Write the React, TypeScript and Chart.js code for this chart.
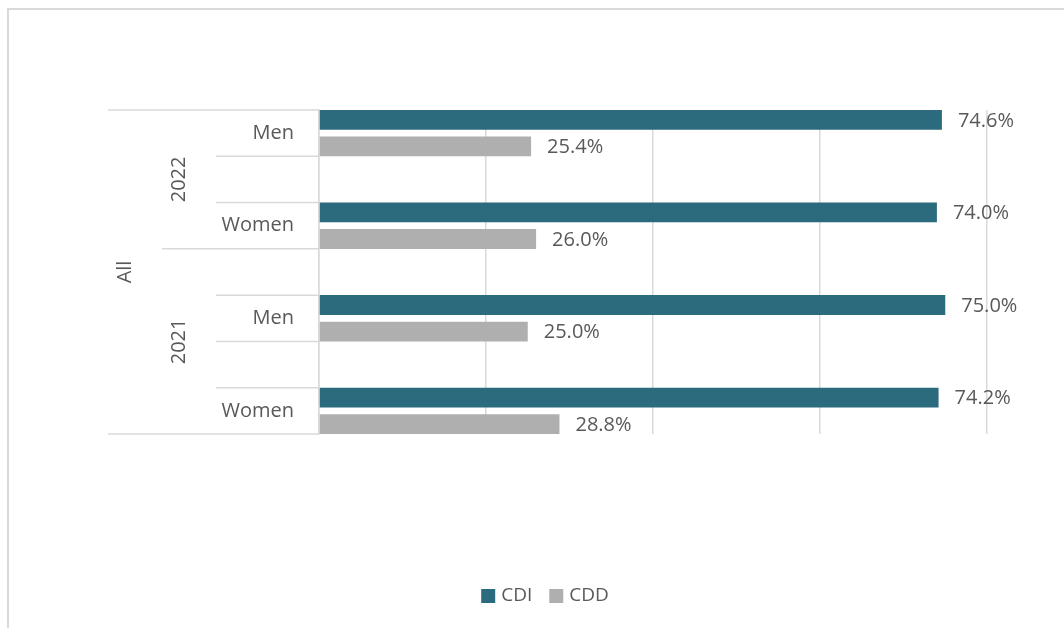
import React, { useEffect, useRef } from "react";
import { Chart, registerables } from "chart.js";

Chart.register(...registerables);

// ---- data ----
const categories = ["Men", "", "Women", "", "Men", "", "Women"];
const yearLabels = ["2022", "2021"];
const yearSpans = [
  [0, 2],
  [3, 6],
];
const outerLabel = "All";
const seriesNames = ["CDI", "CDD"];
const cdiValues = [74.6, null, 74.0, null, 75.0, null, 74.2];
const cddValues = [25.4, null, 26.0, null, 25.0, null, 28.8];
const seriesColors = ["#2B6B7D", "#AFAFAF"];
const xMax = 80;
const xStep = 20;

const FONT = '"Open Sans", "DejaVu Sans", sans-serif';
const TEXT = "#595959";
const LINE = "#d9d9d9";

const multiLevelPlugin = {
  id: "multiLevel",
  afterDraw(chart: any) {
    const ctx = chart.ctx;
    const ys = chart.scales.y;
    const top = ys.top;
    const bottom = ys.bottom;
    const n = categories.length;
    const band = (bottom - top) / n;
    const axisX = chart.chartArea.left;
    ctx.save();
    ctx.strokeStyle = LINE;
    ctx.lineWidth = 1.5;
    const hline = (y: number, x0: number) => {
      ctx.beginPath();
      ctx.moveTo(x0, y);
      ctx.lineTo(axisX, y);
      ctx.stroke();
    };
    hline(top, axisX - 211);
    hline(bottom, axisX - 211);
    for (let k = 1; k < n; k++) {
      const y = top + k * band;
      const isGroup = yearSpans.some((s) => s[0] === k);
      hline(y, isGroup ? axisX - 157 : axisX - 103);
    }
    ctx.fillStyle = TEXT;
    ctx.font = `20px ${FONT}`;
    ctx.textBaseline = "middle";
    ctx.textAlign = "right";
    categories.forEach((c, i) => {
      if (!c) return;
      ctx.fillText(c, axisX - 25, ys.getPixelForValue(i));
    });
    ctx.textAlign = "center";
    yearLabels.forEach((yl, gi) => {
      const [a, b] = yearSpans[gi];
      const cy = (top + a * band + top + (b + 1) * band) / 2;
      ctx.save();
      ctx.translate(axisX - 140, cy);
      ctx.rotate(-Math.PI / 2);
      ctx.fillText(yl, 0, 0);
      ctx.restore();
    });
    ctx.save();
    ctx.translate(axisX - 194, (top + bottom) / 2);
    ctx.rotate(-Math.PI / 2);
    ctx.fillText(outerLabel, 0, 0);
    ctx.restore();

    // legend
    const legendCenterX = 545;
    const legendY = 596;
    const box = 14;
    const textGap = 6;
    const itemGap = 17;
    ctx.font = `19px ${FONT}`;
    const widths = seriesNames.map((s) => ctx.measureText(s).width);
    let total = 0;
    widths.forEach((w, i) => {
      total += box + textGap + w + (i < widths.length - 1 ? itemGap : 0);
    });
    let x = legendCenterX - total / 2;
    ctx.textAlign = "left";
    seriesNames.forEach((s, i) => {
      ctx.fillStyle = seriesColors[i];
      ctx.fillRect(x, legendY - box / 2, box, box);
      ctx.fillStyle = TEXT;
      ctx.fillText(s, x + box + textGap, legendY);
      x += box + textGap + widths[i] + itemGap;
    });
    ctx.restore();
  },
  afterDatasetsDraw(chart: any) {
    const ctx = chart.ctx;
    ctx.save();
    ctx.fillStyle = TEXT;
    ctx.font = `20px ${FONT}`;
    ctx.textBaseline = "middle";
    ctx.textAlign = "left";
    chart.data.datasets.forEach((ds: any, di: number) => {
      const meta = chart.getDatasetMeta(di);
      meta.data.forEach((el: any, i: number) => {
        const v = ds.data[i];
        if (v === null || v === undefined) return;
        ctx.fillText(v.toFixed(1) + "%", el.x + 16, el.y + 1);
      });
    });
    ctx.restore();
  },
};

export default function App() {
  const ref = useRef<HTMLCanvasElement | null>(null);
  useEffect(() => {
    if (!ref.current) return;
    const chart = new Chart(ref.current, {
      type: "bar",
      data: {
        labels: categories,
        datasets: [
          {
            label: seriesNames[0],
            data: cdiValues,
            backgroundColor: seriesColors[0],
            categoryPercentage: 1.15,
            barPercentage: 0.745,
          },
          {
            label: seriesNames[1],
            data: cddValues,
            backgroundColor: seriesColors[1],
            categoryPercentage: 1.15,
            barPercentage: 0.745,
          },
        ],
      } as any,
      options: {
        indexAxis: "y",
        animation: false,
        responsive: false,
        layout: { padding: { left: 319, right: 77, top: 110, bottom: 194 } },
        plugins: { legend: { display: false }, tooltip: { enabled: false } },
        scales: {
          x: {
            type: "linear",
            min: 0,
            max: xMax,
            ticks: { display: false, stepSize: xStep },
            grid: { color: LINE, lineWidth: 1.5, drawTicks: false },
            border: { display: false },
          },
          y: {
            type: "category",
            ticks: { display: false },
            grid: { display: false, drawTicks: false },
            border: { display: true, color: LINE, width: 1.5 },
          },
        },
      } as any,
      plugins: [multiLevelPlugin],
    });
    return () => chart.destroy();
  }, []);
  return (
    <div style={{ position: "fixed", left: 0, top: 0, width: 1064, height: 628, background: "#fff", overflow: "hidden" }}>
      <div
        style={{
          position: "absolute",
          left: 7,
          top: 8,
          width: 1200,
          height: 800,
          border: "2px solid #d9d9d9",
          boxSizing: "border-box",
        }}
      />
      <canvas ref={ref} width={1064} height={628} style={{ position: "absolute", left: 0, top: 0, width: 1064, height: 628 }} />
    </div>
  );
}
